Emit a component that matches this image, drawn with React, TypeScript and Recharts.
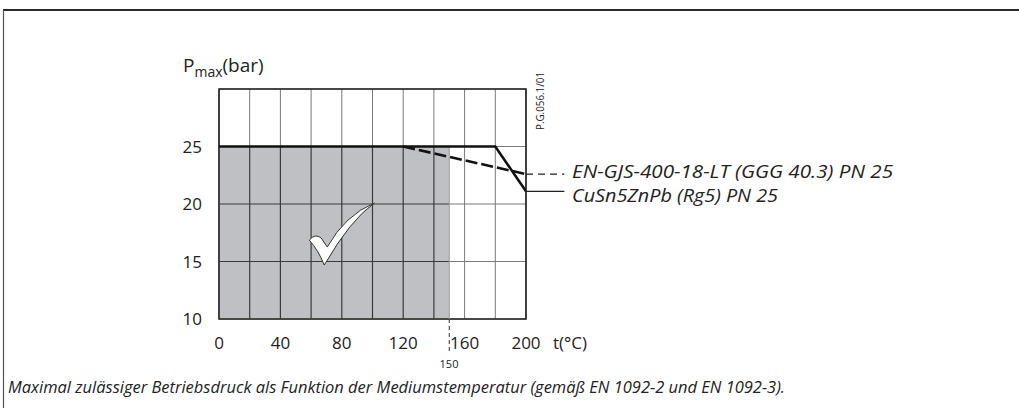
import React from 'react';
import {
  ComposedChart,
  Line,
  XAxis,
  YAxis,
  CartesianGrid,
  ReferenceArea,
  ReferenceLine,
  ReferenceDot,
} from 'recharts';

// temperature grid (°C) and pressure grid (bar)
const tempTicks = [0, 20, 40, 60, 80, 100, 120, 140, 160, 180, 200];
const pressureTicks = [10, 15, 20, 25, 30];

// CuSn5ZnPb (Rg5) PN 25
const bronzeLine = [
  { t: 0, p: 25 },
  { t: 180, p: 25 },
  { t: 200, p: 21.1 },
];

// EN-GJS-400-18-LT (GGG 40.3) PN 25
const ductileLine = [
  { t: 120, p: 25 },
  { t: 200, p: 22.6 },
];

// admissible zone
const zoneTempMax = 150;
const zonePressMax = 25;

const W = 1019;
const H = 408;
const font = '"Open Sans", "DejaVu Sans", sans-serif';

const CheckMark = (props: any) => {
  const { cx, cy } = props;
  return (
    <path
      transform={`translate(${cx},${cy})`}
      d="M -31 5 Q -25 -2 -19 3 L -13 12 Q 5 -20 34 -32 Q 10 -15 -16 30 Q -22 15 -31 5 Z"
      fill="#ffffff"
      stroke="#333"
      strokeWidth={1}
    />
  );
};

const App = () => (
  <div style={{ position: 'absolute', left: 0, top: 0, width: W, height: H, background: '#fff' }}>
    <ComposedChart width={W} height={H} margin={{ top: 89, right: 493, bottom: 59, left: 179 }}>
      <CartesianGrid stroke="#7a7a7a" strokeWidth={1} />
      <XAxis
        dataKey="t"
        type="number"
        domain={[0, 200]}
        ticks={tempTicks}
        tickFormatter={(v: number) => (v % 40 === 0 ? String(v) : '')}
        axisLine={false}
        tickLine={false}
        tickSize={0}
        tickMargin={18}
        height={30}
        interval={0}
        tick={{ fontSize: 17, fill: '#222', fontFamily: font }}
        allowDataOverflow
      />
      <YAxis
        type="number"
        domain={[10, 30]}
        ticks={pressureTicks}
        tickFormatter={(v: number) => (v === 30 ? '' : String(v))}
        axisLine={false}
        tickLine={false}
        tickSize={0}
        tickMargin={17}
        width={40}
        interval={0}
        tick={{ fontSize: 17, fill: '#222', fontFamily: font }}
      />
      <ReferenceArea x1={0} x2={zoneTempMax} y1={10} y2={zonePressMax} fill="#bfc0c3" fillOpacity={1} stroke="none" />
      {tempTicks
        .filter((t) => t > 0 && t < zoneTempMax)
        .map((t) => (
          <ReferenceLine
            key={`v${t}`}
            segment={[{ x: t, y: 10 }, { x: t, y: zonePressMax }]}
            stroke="#3a3a3a"
            strokeWidth={1.2}
          />
        ))}
      {pressureTicks
        .filter((p) => p > 10 && p < zonePressMax)
        .map((p) => (
          <ReferenceLine
            key={`h${p}`}
            segment={[{ x: 0, y: p }, { x: zoneTempMax, y: p }]}
            stroke="#3a3a3a"
            strokeWidth={1.2}
          />
        ))}
      <ReferenceLine
        segment={[{ x: zoneTempMax, y: 10 }, { x: zoneTempMax, y: zonePressMax }]}
        stroke="#9a9a9a"
        strokeWidth={1}
      />
      <ReferenceLine
        segment={[{ x: zoneTempMax, y: 10 }, { x: zoneTempMax, y: 7 }]}
        stroke="#333"
        strokeWidth={1}
        strokeDasharray="4 3"
        ifOverflow="visible"
      />
      <ReferenceArea x1={0} x2={200} y1={10} y2={30} fill="none" stroke="#222" strokeWidth={1.6} />
      <Line
        data={ductileLine}
        dataKey="p"
        type="linear"
        stroke="#111"
        strokeWidth={2.6}
        strokeDasharray="12 4"
        dot={false}
        isAnimationActive={false}
      />
      <Line
        data={bronzeLine}
        dataKey="p"
        type="linear"
        stroke="#111"
        strokeWidth={2.6}
        dot={false}
        isAnimationActive={false}
      />
      <ReferenceLine
        segment={[{ x: 200, y: 22.6 }, { x: 225, y: 22.6 }]}
        stroke="#222"
        strokeWidth={1.2}
        strokeDasharray="7 5"
        ifOverflow="visible"
      />
      <ReferenceLine
        segment={[{ x: 200, y: 21.1 }, { x: 225, y: 21.1 }]}
        stroke="#222"
        strokeWidth={1.2}
        ifOverflow="visible"
      />
      <ReferenceDot x={79} y={17.3} r={1} shape={CheckMark} ifOverflow="visible" />
    </ComposedChart>
    <svg
      width={W}
      height={H}
      style={{ position: 'absolute', left: 0, top: 0, pointerEvents: 'none' }}
      fontFamily={font}
    >
      <line x1={3} y1={10} x2={W} y2={10} stroke="#2a2a2a" strokeWidth={2} />
      <line x1={3.5} y1={10} x2={3.5} y2={H} stroke="#555" strokeWidth={1.2} />
      <text x={183} y={72} fontSize={19} fill="#222">
        P
        <tspan fontSize={14} dy={5}>max</tspan>
        <tspan dy={-5}>(bar)</tspan>
      </text>
      <text transform="translate(544,130) rotate(-90)" fontSize={10} fill="#222" textLength={58} lengthAdjust="spacingAndGlyphs">
        P.G.056.1/01
      </text>
      <text x={553} y={349} fontSize={17} fill="#222">
        t(°C)
      </text>
      <text x={449} y={368} fontSize={11} fill="#222" textAnchor="middle">
        150
      </text>
      <text x={572} y={178} fontSize={17.5} fontStyle="italic" fill="#222" textLength={321} lengthAdjust="spacingAndGlyphs">
        EN-GJS-400-18-LT (GGG 40.3) PN 25
      </text>
      <text x={572} y={202} fontSize={17.5} fontStyle="italic" fill="#222" textLength={206} lengthAdjust="spacingAndGlyphs">
        CuSn5ZnPb (Rg5) PN 25
      </text>
      <text x={8} y={393} fontSize={17} fontStyle="italic" fill="#222" textLength={777} lengthAdjust="spacingAndGlyphs">
        Maximal zulässiger Betriebsdruck als Funktion der Mediumstemperatur (gemäß EN 1092-2 und EN 1092-3).
      </text>
    </svg>
  </div>
);

export default App;
